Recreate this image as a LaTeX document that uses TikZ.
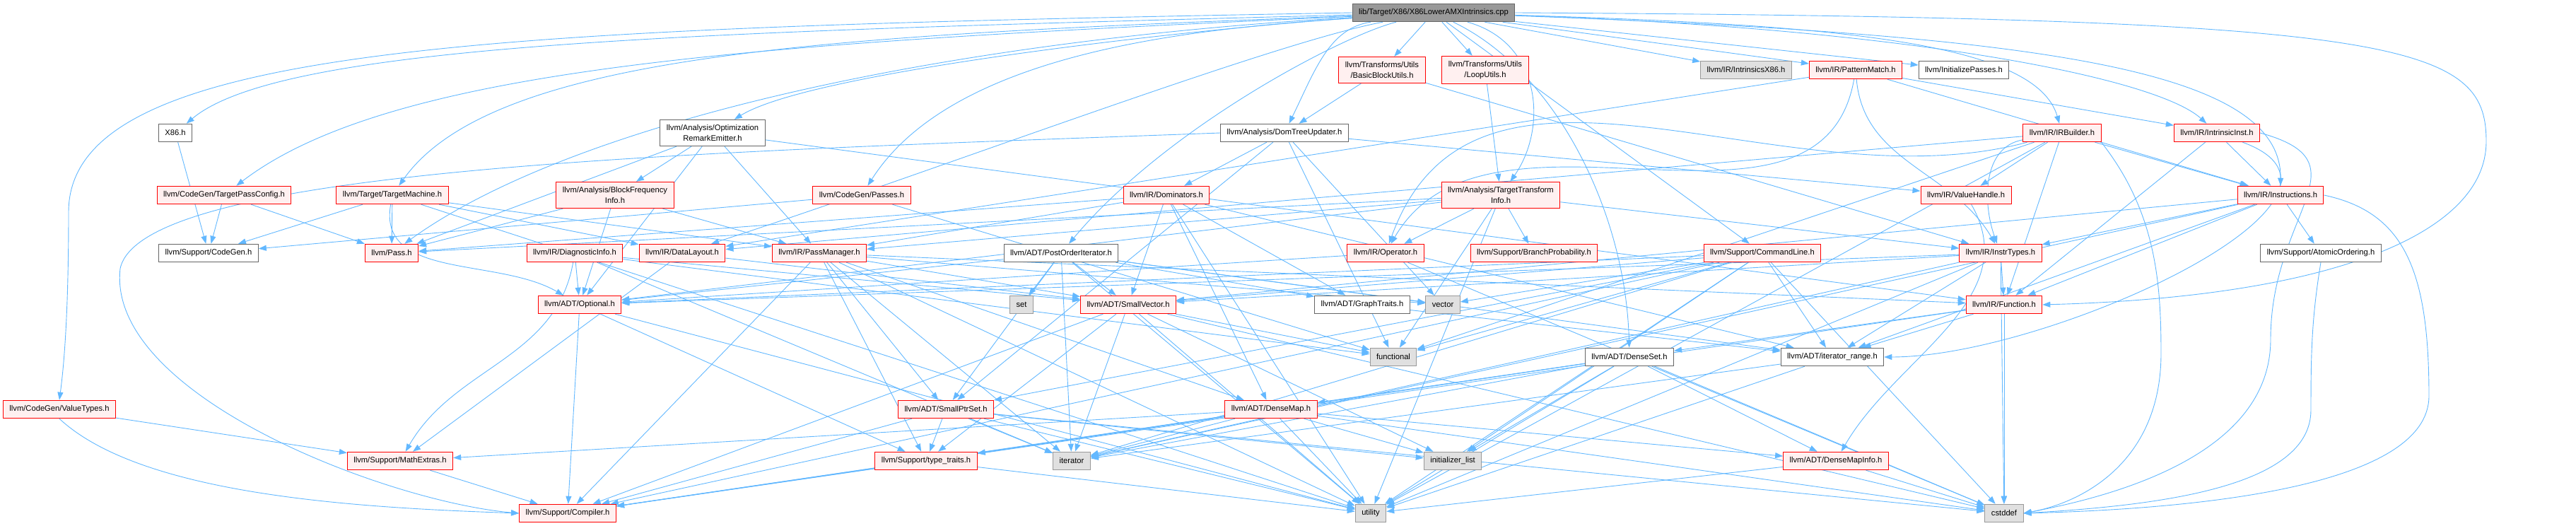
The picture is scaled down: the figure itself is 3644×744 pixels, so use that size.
\documentclass[tikz,border=0pt]{standalone}
\usepackage{fontspec}
\setmainfont{Liberation Sans}
\usepackage{tikz}
\usetikzlibrary{arrows.meta}
\definecolor{edgeblue}{RGB}{99, 184, 255}
\definecolor{truncline}{RGB}{255, 0, 0}
\definecolor{truncfill}{RGB}{255, 240, 240}
\definecolor{sysline}{RGB}{153, 153, 153}
\definecolor{sysfill}{RGB}{224, 224, 224}
\definecolor{hdrline}{RGB}{102, 102, 102}
\definecolor{rootfill}{RGB}{153, 153, 153}

\pgfdeclarelayer{background}
\pgfsetlayers{background,main}

\tikzset{
	hdr/.style={draw=hdrline, fill=white, line width=0.2pt, inner xsep=1.8pt, inner ysep=1.4pt,
		minimum height=5.1pt, align=center, font=\fontsize{2.24}{3}\selectfont},
	trunc/.style={hdr, draw=truncline, fill=truncfill},
	sys/.style={hdr, draw=sysline, fill=sysfill},
	rootfile/.style={hdr, fill=rootfill},
	dep/.style={color=edgeblue, line width=0.18pt, -{Triangle[length=2.2pt,width=1.6pt]}}
}

\begin{document}
\begin{tikzpicture}[x=0.2pt, y=-0.2pt]
		\useasboundingbox (0,0) rectangle (3644,744);

		% --- Source file ---
		\node[rootfile] (root) at (2028,18) {lib/Target/X86/X86LowerAMXIntrinsics.cpp};

		% --- Row 1 ---
		\node[trunc] (bbu) at (1955,99) {llvm/Transforms/Utils\\/BasicBlockUtils.h};
		\node[trunc] (lu) at (2101,99) {llvm/Transforms/Utils\\/LoopUtils.h};
		\node[sys] (ix86) at (2470,99) {llvm/IR/IntrinsicsX86.h};
		\node[trunc] (pmatch) at (2625,99) {llvm/IR/PatternMatch.h};
		\node[hdr] (initp) at (2778,99) {llvm/InitializePasses.h};

		% --- Row 2 ---
		\node[hdr] (x86) at (248,188) {X86.h};
		\node[hdr] (ore) at (1008,188) {llvm/Analysis/Optimization\\RemarkEmitter.h};
		\node[hdr] (dtu) at (1817,188) {llvm/Analysis/DomTreeUpdater.h};
		\node[trunc] (irb) at (2917,188) {llvm/IR/IRBuilder.h};
		\node[trunc] (ii) at (3136,188) {llvm/IR/IntrinsicInst.h};

		% --- Row 3 ---
		\node[trunc] (tpc) at (317,276) {llvm/CodeGen/TargetPassConfig.h};
		\node[trunc] (tm) at (555,276) {llvm/Target/TargetMachine.h};
		\node[trunc] (bfi) at (870,276) {llvm/Analysis/BlockFrequency\\Info.h};
		\node[trunc] (cgpasses) at (1219,276) {llvm/CodeGen/Passes.h};
		\node[trunc] (dom) at (1650,276) {llvm/IR/Dominators.h};
		\node[trunc] (tti) at (2123,276) {llvm/Analysis/TargetTransform\\Info.h};
		\node[trunc] (vh) at (2781,276) {llvm/IR/ValueHandle.h};
		\node[trunc] (inst) at (3226,276) {llvm/IR/Instructions.h};

		% --- Row 4 ---
		\node[hdr] (cgh) at (295,358) {llvm/Support/CodeGen.h};
		\node[trunc] (pass) at (554,358) {llvm/Pass.h};
		\node[trunc] (diag) at (813,358) {llvm/IR/DiagnosticInfo.h};
		\node[trunc] (dl) at (965,358) {llvm/IR/DataLayout.h};
		\node[trunc] (pm) at (1159,358) {llvm/IR/PassManager.h};
		\node[hdr] (poi) at (1501,358) {llvm/ADT/PostOrderIterator.h};
		\node[trunc] (op) at (1960,358) {llvm/IR/Operator.h};
		\node[trunc] (bp) at (2170,358) {llvm/Support/BranchProbability.h};
		\node[trunc] (cl) at (2493,358) {llvm/Support/CommandLine.h};
		\node[trunc] (instrt) at (2830,358) {llvm/IR/InstrTypes.h};
		\node[hdr] (atomic) at (3283,358) {llvm/Support/AtomicOrdering.h};

		% --- Row 5 ---
		\node[trunc] (opt) at (820,431) {llvm/ADT/Optional.h};
		\node[sys] (set) at (1445,431) {set};
		\node[trunc] (svec) at (1596,431) {llvm/ADT/SmallVector.h};
		\node[hdr] (gt) at (1927,431) {llvm/ADT/GraphTraits.h};
		\node[sys] (vector) at (2041,431) {vector};
		\node[trunc] (func) at (2835,431) {llvm/IR/Function.h};

		% --- Row 6 ---
		\node[sys] (functional) at (1971,505) {functional};
		\node[hdr] (dset) at (2305,505) {llvm/ADT/DenseSet.h};
		\node[hdr] (itr) at (2592,505) {llvm/ADT/iterator\_range.h};

		% --- Row 7 ---
		\node[trunc] (vt) at (84,579) {llvm/CodeGen/ValueTypes.h};
		\node[trunc] (sps) at (1338,579) {llvm/ADT/SmallPtrSet.h};
		\node[trunc] (dmap) at (1798,579) {llvm/ADT/DenseMap.h};

		% --- Row 8 ---
		\node[trunc] (math) at (566,652) {llvm/Support/MathExtras.h};
		\node[trunc] (tt) at (1310,652) {llvm/Support/type\_traits.h};
		\node[sys] (iter) at (1516,652) {iterator};
		\node[sys] (initl) at (2055,652) {initializer\_list};
		\node[trunc] (dmi) at (2597,652) {llvm/ADT/DenseMapInfo.h};

		% --- Row 9 ---
		\node[trunc] (comp) at (803,726) {llvm/Support/Compiler.h};
		\node[sys] (utility) at (1939,726) {utility};
		\node[sys] (cstddef) at (2835,726) {cstddef};

		\begin{pgfonlayer}{background}
		% --- Includes of the source file ---
		\draw[dep] (root) .. controls (1000,45) and (400,60) .. (x86);
		\draw[dep] (root) .. controls (1100,60) and (560,90) .. (tpc);
		\draw[dep] (root) .. controls (1200,50) and (700,70) .. (tm);
		\draw[dep] (root) .. controls (1300,60) and (800,180) .. (pass);
		\draw[dep] (root) .. controls (1700,40) and (1150,100) .. (ore);
		\draw[dep] (root) .. controls (1700,40) and (1350,70) .. (cgpasses);
		\draw[dep] (root) .. controls (1900,50) and (1650,180) .. (poi);
		\draw[dep] (root) .. controls (1800,60) and (1300,250) .. (dl);
		\draw[dep] (root) .. controls (1880,40) and (1860,100) .. (dtu);
		\draw[dep] (root) .. controls (2180,60) and (2190,180) .. (tti);
		\draw[dep] (root) .. controls (2600,35) and (2880,60) .. (irb);
		\draw[dep] (root) .. controls (2700,40) and (3050,110) .. (ii);
		\draw[dep] (root) .. controls (2900,50) and (3227,100) .. (inst);
		\draw[dep] (root) .. controls (2200,100) and (2300,300) .. (dset);
		\path[dep] (root) edge (bbu) edge (lu) edge (ix86) edge (pmatch) edge (initp) edge (cl);
		\draw[dep] (root.west) .. controls (700,40) and (97,60) .. (97,300)
			.. controls (97,450) and (90,520) .. (vt.north);
		\draw[dep] (root.east) .. controls (3400,25) and (3517,60) .. (3517,200)
			.. controls (3517,330) and (3300,420) .. (func.east);

		% --- Headers, top half ---
		\path[dep] (x86) edge (cgh);
		\path[dep] (tpc) edge (cgh) edge (pass);
		\path[dep] (tm) edge (cgh) edge (pass) edge[out=-100,in=150] (opt) edge (dl) edge (pm) edge (utility);
		\path[dep] (ore) edge (bfi) edge (pass) edge (opt) edge (pm) edge (func);
		\path[dep] (bfi) edge (opt) edge (pm) edge (pass);
		\path[dep] (cgpasses) edge (cgh) edge (functional);
		\path[dep] (dtu) edge (dom) edge (vh) edge (sps) edge (functional) edge (vector);
		\draw[dep] (dtu.west) .. controls (1000,215) and (200,235) .. (170,380)
			.. controls (150,560) and (550,710) .. (comp.west);
		\path[dep] (bbu) edge (dtu) edge (instrt);
		\path[dep] (lu) edge (tti);
		\path[dep] (dom) edge (pass) edge (pm) edge (svec) edge (gt) edge (dmap) edge (itr) edge (utility);
		\path[dep] (tti) edge (op) edge (bp) edge (opt) edge (pm) edge (pass) edge (instrt)
			edge (functional) edge (utility);
		\path[dep] (pmatch) edge[out=-100,in=60] (op) edge[out=-85,in=120] (instrt) edge (inst) edge (ii) edge (dl);
		\path[dep] (irb) edge (vh) edge[out=190,in=110] (instrt) edge (inst) edge[out=195,in=70] (op)
			edge (dl) edge (func) edge (functional) edge (utility);
		\draw[dep] (irb.south east) .. controls (3050,300) and (3057,400) .. (3057,500)
			.. controls (3057,650) and (2950,710) .. (cstddef.east);
		\path[dep] (ii) edge (inst) edge (func) edge[out=-20,in=0] (itr);
		\draw[dep] (ii.east) .. controls (3350,230) and (3212,300) .. (3212,480)
			.. controls (3212,640) and (3000,700) .. (cstddef.east);
		\path[dep] (inst) edge (instrt) edge (atomic) edge (func) edge (itr) edge (svec) edge (iter);
		\draw[dep] (inst.east) .. controls (3400,300) and (3436,380) .. (3436,560)
			.. controls (3436,690) and (3100,720) .. (cstddef.east);
		\path[dep] (vh) edge[out=-60,in=60] (dmi);
		\path[dep] (instrt) edge (func) edge (itr) edge (svec) edge (opt) edge (iter) edge (cstddef) edge (utility);
		\draw[dep] (atomic.south) .. controls (3270,450) and (3269,500) .. (3269,580)
			.. controls (3269,690) and (3050,715) .. (cstddef.east);

		% --- Headers, middle ---
		\path[dep] (cl) edge (opt) edge (svec) edge (sps) edge (itr) edge (comp) edge (functional)
			edge (initl) edge (vector) edge (utility) edge (cstddef) edge (iter);
		\path[dep] (poi) edge (set) edge (svec) edge (sps) edge (gt) edge (itr) edge (iter)
			edge (utility) edge (vector) edge (opt);
		\path[dep] (diag) edge (opt) edge (svec) edge[out=-100,in=60] (math) edge (functional) edge (iter);
		\path[dep] (dl) edge (svec) edge (math);
		\path[dep] (pm) edge (sps) edge (svec) edge (dmap) edge (func) edge (tt) edge (comp)
			edge (iter) edge (utility) edge (vector);
		\path[dep] (op) edge (opt) edge (cstddef);
		\path[dep] (func) edge (dset) edge (itr) edge (comp) edge (cstddef);

		% --- ADT and support headers ---
		\path[dep] (svec) edge (comp) edge (tt) edge (iter) edge (functional) edge (initl)
			edge (utility) edge (cstddef);
		\path[dep] (sps) edge (comp) edge (tt) edge (iter) edge (utility) edge (initl) edge (cstddef);
		\path[dep] (gt) edge (itr);
		\path[dep] (dmap) edge (dmi) edge (comp) edge (math) edge (tt) edge (iter) edge (utility)
			edge (initl) edge (cstddef);
		\path[dep] (dset) edge (dmap) edge (dmi) edge (comp) edge (tt) edge (iter) edge (utility)
			edge (initl) edge (cstddef);
		\path[dep] (dmi) edge (cstddef) edge (utility);
		\path[dep] (opt) edge (comp) edge (tt) edge (utility);
		\path[dep] (itr) edge (utility) edge (iter);
		\path[dep] (vt) edge (math);
		\draw[dep] (vt.south) .. controls (200,700) and (500,718) .. (comp.west);
		\path[dep] (math) edge (comp);
		\path[dep] (tt) edge (comp) edge (utility);
		\end{pgfonlayer}
	\end{tikzpicture}
\end{document}
